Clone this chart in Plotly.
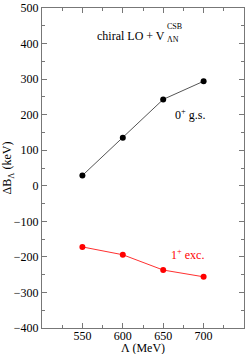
import plotly.graph_objects as go

cutoff = [550, 600, 650, 700]
gs_0plus = [29, 135, 243, 294]
exc_1plus = [-172, -194, -237, -256]

font = "Times New Roman"
fig = go.Figure()
fig.add_trace(go.Scatter(x=cutoff, y=gs_0plus, mode="lines+markers",
                         line=dict(color="#555555", width=1),
                         marker=dict(color="black", size=6), showlegend=False))
fig.add_trace(go.Scatter(x=cutoff, y=exc_1plus, mode="lines+markers",
                         line=dict(color="#ff3030", width=1),
                         marker=dict(color="#ff0000", size=6), showlegend=False))

axis_common = dict(showgrid=False, zeroline=False, showline=True, linecolor="#777777",
                   linewidth=1, mirror="ticks", ticks="inside", ticklen=5,
                   tickcolor="#777777", ticklabeloverflow="allow",
                   tickfont=dict(family=font, size=12, color="black"))
fig.update_xaxes(range=[500, 750], tickvals=[550, 600, 650, 700], ticklabelstandoff=-3,
                 minor=dict(tickvals=[500, 525, 575, 625, 675, 725, 750], ticks="inside", ticklen=3, tickcolor="#777777"),
                 **axis_common)
fig.update_yaxes(range=[-400, 500], tickvals=[-400, -300, -200, -100, 0, 100, 200, 300, 400, 500],
                 minor=dict(dtick=50, ticks="inside", ticklen=3, tickcolor="#777777"),
                 title=dict(text="ΔB<sub>Λ</sub> (keV)", font=dict(family=font, size=12, color="black"), standoff=2),
                 **axis_common)

ann = [
    dict(x=609.6, y=420, text="chiral LO + V", size=12, color="black", xanchor="center"),
    dict(x=652.5, y=448, text="CSB", size=8, color="black", xanchor="left"),
    dict(x=652.5, y=411, text="ΛN", size=8, color="black", xanchor="left"),
    dict(x=683.5, y=200, text="0<sup>+</sup> g.s.", size=12, color="black", xanchor="center"),
    dict(x=680, y=-192, text="1<sup>+</sup> exc.", size=12, color="#ff0000", xanchor="center"),
]
for a in ann:
    fig.add_annotation(x=a["x"], y=a["y"], text=a["text"], showarrow=False, xanchor=a["xanchor"],
                       font=dict(family=font, size=a["size"], color=a["color"]))

fig.add_annotation(x=0.5, y=-0.0625, xref="paper", yref="paper", text="Λ (MeV)", showarrow=False,
                   yanchor="middle", font=dict(family=font, size=12, color="black"))

fig.update_layout(width=246, height=354, margin=dict(l=42, r=1, t=5, b=26),
                  font=dict(family=font, size=12, color="black"),
                  plot_bgcolor="white", paper_bgcolor="white")
fig.write_html("out.html", config={"displayModeBar": False},
               post_script="document.body.style.margin='0';")
